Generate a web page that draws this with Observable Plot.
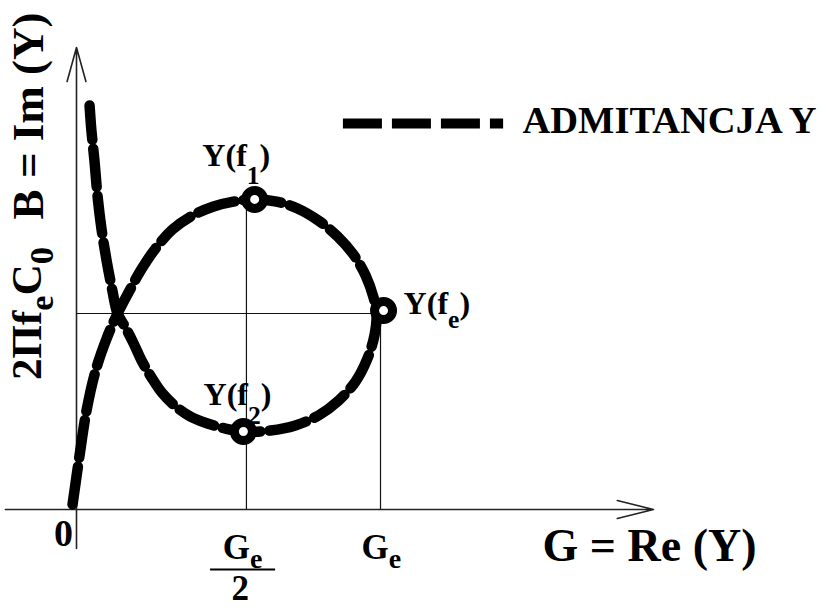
<!DOCTYPE html>
<html>
<head>
<meta charset="utf-8">
<script src="https://cdn.jsdelivr.net/npm/d3@7"></script>
<script src="https://cdn.jsdelivr.net/npm/@observablehq/plot@0.6"></script>
<style>
  body { margin: 0; background: #fff; }
  svg { display: block; }
</style>
</head>
<body>
<div id="chart"></div>
<script>
// Admittance locus Y = G + jB of a resonator, traced with rising frequency.
// G in units of Ge, B in units of 2πfeC0.
const locusG = [-0.013, 0.010, 0.033, 0.063, 0.099, 0.135, 0.171, 0.211, 0.260, 0.316,
  0.382, 0.451, 0.516, 0.586, 0.658, 0.727, 0.796, 0.859, 0.911, 0.951,
  0.977, 0.987, 0.980, 0.957, 0.918, 0.862, 0.796, 0.720, 0.638, 0.549,
  0.490, 0.431, 0.375, 0.326, 0.283, 0.247, 0.214, 0.188, 0.161, 0.135,
  0.118, 0.099, 0.082, 0.069, 0.059, 0.049, 0.043];
const locusB = [0.026, 0.276, 0.505, 0.709, 0.872, 1.000, 1.107, 1.219, 1.332, 1.429,
  1.500, 1.546, 1.571, 1.582, 1.571, 1.536, 1.474, 1.393, 1.301, 1.194,
  1.082, 1.000, 0.888, 0.770, 0.653, 0.556, 0.480, 0.429, 0.403, 0.398,
  0.413, 0.439, 0.474, 0.526, 0.592, 0.673, 0.760, 0.847, 0.929, 1.000,
  1.117, 1.270, 1.434, 1.602, 1.781, 1.934, 2.061];

// Characteristic points on the locus and their labels
const pointNames = ["Y(f_1)", "Y(f_e)", "Y(f_2)"];
const pointG = [0.586, 1.010, 0.549];
const pointB = [1.582, 1.015, 0.398];
const pointLabelG = [0.414, 1.076, 0.418];
const pointLabelB = [1.755, 1.000, 0.531];

// Reference values on the axes
const halfGe = 0.559;   // Ge / 2
const Ge = 1.0;         // Ge
const B0 = 1.0;         // 2πfeC0
const axisG = [-0.234, 1.898];
const axisB = [-0.199, 2.357];

const locus = locusG.map((g, i) => ({G: g, B: locusB[i]}));
const points = pointNames.map((name, i) => ({name, G: pointG[i], B: pointB[i], lg: pointLabelG[i], lb: pointLabelB[i]}));

const serif = "'Liberation Serif', 'Times New Roman', Times, serif";
const ink = "#000";

const chart = Plot.plot({
  width: 822,
  height: 609,
  margin: 0,
  style: {background: "#fff", fontFamily: serif},
  x: {domain: [-0.25, 2.4539], axis: null},
  y: {domain: [-0.5102, 2.597], axis: null},
  marks: [
    // axes with open arrowheads
    Plot.arrow([axisG], {x1: d => d[0], x2: d => d[1], y1: 0, y2: 0, stroke: "#222", strokeWidth: 1.6, headAngle: 28, headLength: 35}),
    Plot.arrow([axisB], {x1: 0, x2: 0, y1: d => d[0], y2: d => d[1], stroke: "#222", strokeWidth: 1.6, headAngle: 31, headLength: 33}),

    // thin guides to the characteristic points
    Plot.ruleY([B0], {x1: 0, x2: Ge, stroke: "#111", strokeWidth: 1.2}),
    Plot.ruleX([halfGe], {y1: 0, y2: pointB[0], stroke: "#111", strokeWidth: 1.2}),
    Plot.ruleX([Ge], {y1: 0, y2: pointB[1], stroke: "#111", strokeWidth: 1.2}),

    // the admittance locus
    Plot.line(locus, {x: "G", y: "B", curve: "catmull-rom", stroke: ink, strokeWidth: 10.5, strokeDasharray: "38,9", strokeLinejoin: "round"}),

    // ring markers
    Plot.dot(points, {x: "G", y: "B", r: 9, fill: "#fff", stroke: ink, strokeWidth: 9}),

    // point labels
    Plot.text(points, {x: "lg", y: "lb", text: "name", textAnchor: "start", lineAnchor: "bottom", fontSize: 32, fontWeight: "bold", fill: ink}),

    // axis titles
    Plot.text(["G = Re (Y)"], {x: 1.533, y: -0.265, textAnchor: "start", lineAnchor: "bottom", fontSize: 46, fontWeight: "bold", fill: ink}),
    Plot.text(["B = Im (Y)"], {x: -0.1086, y: 2.008, rotate: -90, textAnchor: "middle", lineAnchor: "bottom", fontSize: 45, fontWeight: "bold", fill: ink}),

    // tick labels
    Plot.text(["0"], {x: -0.043, y: -0.184, textAnchor: "middle", lineAnchor: "bottom", fontSize: 38, fontWeight: "bold", fill: ink}),
    Plot.text(["G_e"], {x: 0.546, y: -0.25, textAnchor: "middle", lineAnchor: "bottom", fontSize: 35, fontWeight: "bold", fill: ink}),
    Plot.ruleY([-0.306], {x1: 0.441, x2: 0.655, stroke: ink, strokeWidth: 2}),
    Plot.text(["2"], {x: 0.539, y: -0.46, textAnchor: "middle", lineAnchor: "bottom", fontSize: 35, fontWeight: "bold", fill: ink}),
    Plot.text(["G_e"], {x: 1.003, y: -0.25, textAnchor: "middle", lineAnchor: "bottom", fontSize: 35, fontWeight: "bold", fill: ink}),
    Plot.text(["2Πf_eC_0"], {x: -0.118, y: B0, rotate: -90, textAnchor: "middle", lineAnchor: "bottom", fontSize: 43, fontWeight: "bold", fill: ink}),

    // legend
    Plot.ruleY([1.969], {x1: 0.878, x2: 1.405, stroke: ink, strokeWidth: 10, strokeDasharray: "39,10"}),
    Plot.text(["ADMITANCJA Y"], {x: 1.467, y: 1.923, textAnchor: "start", lineAnchor: "bottom", fontSize: 38.5, fontWeight: "bold", fill: ink})
  ]
});

// "_x" in a label marks x as a subscript; how far it drops (in em of the label)
const subscriptDrop = {"Y(f_1)": 0.58, "Y(f_2)": 0.58, "Y(f_e)": 0.45, "G_e": 0.27, "2Πf_eC_0": 0.28};
function applySubscripts(svg) {
  for (const t of svg.querySelectorAll("text")) {
    const label = t.textContent;
    const parts = label.split(/_(.)/);
    if (parts.length < 2) continue;
    const drop = subscriptDrop[label] ?? 0.3;
    t.textContent = "";
    let offset = 0;
    parts.forEach((s, i) => {
      if (!s) return;
      const sub = i % 2 === 1;
      const span = document.createElementNS("http://www.w3.org/2000/svg", "tspan");
      const target = sub ? drop : 0;
      if (target !== offset) span.setAttribute("dy", `${((target - offset) / (sub ? 0.8 : 1)).toFixed(3)}em`);
      offset = target;
      if (sub) span.setAttribute("font-size", "0.8em");
      span.textContent = s;
      t.appendChild(span);
    });
  }
}
applySubscripts(chart);
document.getElementById("chart").appendChild(chart);
</script>
</body>
</html>
